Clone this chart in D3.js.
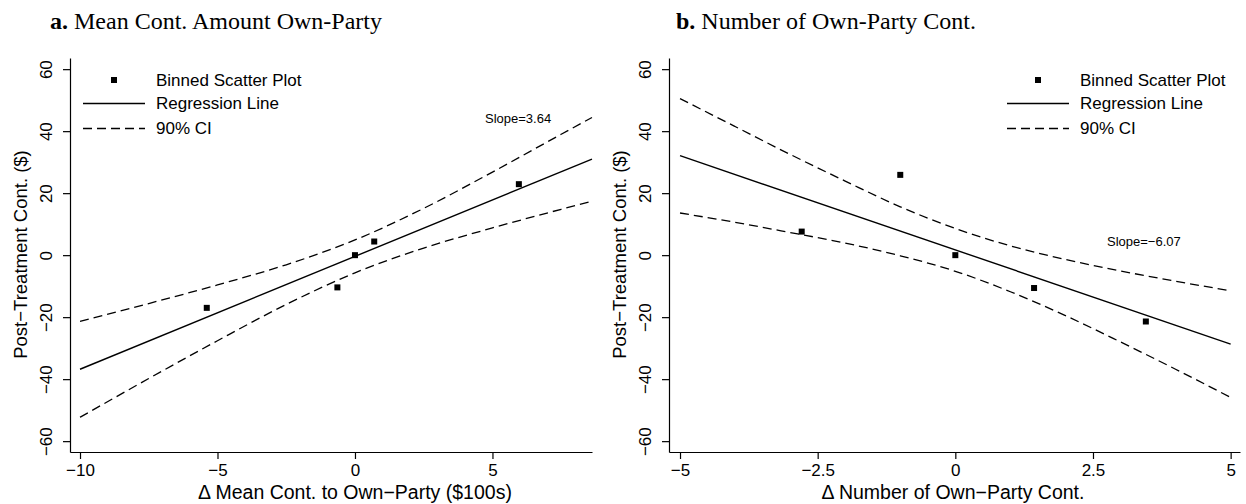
<!DOCTYPE html>
<html>
<head>
<meta charset="utf-8">
<script src="https://cdn.jsdelivr.net/npm/d3@7"></script>
<style>
  body { margin: 0; background: #fff; }
  svg { display: block; }
  text { fill: #000; }
</style>
</head>
<body>
<svg id="chart" width="1246" height="504"></svg>
<script>
// ---- Data ----
const yTicks = [-60, -40, -20, 0, 20, 40, 60];
const yTickLabels = ["\u221260", "\u221240", "\u221220", "0", "20", "40", "60"];

// Panel a
const xTicksA = [-10, -5, 0, 5];
const xTickLabelsA = ["\u221210", "\u22125", "0", "5"];
const binXA = [-5.39, -0.64, 0.0, 0.70, 5.96];
const binYA = [-17.0, -10.4, 0.0, 4.4, 22.9];
const fitXA = [-10, 8.62];
const fitYA = [-36.8, 31.0];
const ciXA = [-10, -7.5, -5, -2.5, 0, 2.5, 5, 7.5, 8.62];
const ciUpA = [-21.4, -15.6, -9.6, -3.1, 4.9, 15.1, 26.8, 39.0, 44.4];
const ciLoA = [-52.3, -39.8, -27.6, -15.9, -5.7, 2.3, 8.8, 14.8, 17.4];
const slopeA = "Slope=3.64";

// Panel b
const xTicksB = [-5, -2.5, 0, 2.5, 5];
const xTickLabelsB = ["\u22125", "\u22122.5", "0", "2.5", "5"];
const binXB = [-2.79, -1.0, 0.0, 1.43, 3.46];
const binYB = [7.6, 25.9, 0.0, -10.6, -21.4];
const fitXB = [-5, 5];
const fitYB = [32.1, -28.7];
const ciXB = [-5, -4, -3, -2, -1, 0, 1, 2, 3, 4, 5];
const ciUpB = [50.5, 41.5, 32.5, 23.9, 15.6, 8.6, 3.0, -1.4, -5.1, -8.4, -11.5];
const ciLoB = [13.6, 10.6, 7.3, 3.9, -0.2, -5.2, -11.8, -19.5, -28.0, -36.8, -45.9];
const slopeB = "Slope=\u22126.07";

const legendLabels = ["Binned Scatter Plot", "Regression Line", "90% CI"];

// ---- Drawing ----
const svg = d3.select("#chart");
const sans = "'Liberation Sans', Arial, Helvetica, sans-serif";
const serif = "'Liberation Serif', 'Times New Roman', serif";

const panels = [
  {
    left: 70, right: 592, xDom: [-10.364, 8.62],
    xTicks: xTicksA, xLabels: xTickLabelsA,
    binX: binXA, binY: binYA, fitX: fitXA, fitY: fitYA,
    ciX: ciXA, ciUp: ciUpA, ciLo: ciLoA,
    slope: slopeA, slopePos: [485, 123],
    titleX: 50, titleBold: "a.", titleRest: " Mean Cont. Amount Own-Party",
    xTitle: "\u0394 Mean Cont. to Own\u2212Party ($100s)", xTitleX: 355,
    legendX: 83
  },
  {
    left: 669, right: 1240, xDom: [-5.2, 5.17],
    xTicks: xTicksB, xLabels: xTickLabelsB,
    binX: binXB, binY: binYB, fitX: fitXB, fitY: fitYB,
    ciX: ciXB, ciUp: ciUpB, ciLo: ciLoB,
    slope: slopeB, slopePos: [1107, 246],
    titleX: 676, titleBold: "b.", titleRest: " Number of Own-Party Cont.",
    xTitle: "\u0394 Number of Own\u2212Party Cont.", xTitleX: 953,
    legendX: 1007
  }
];

const plotTop = 58, plotBottom = 452;
const y = d3.scaleLinear().domain([-63.5, 63.6]).range([plotBottom, plotTop]);

panels.forEach(p => {
  const x = d3.scaleLinear().domain(p.xDom).range([p.left, p.right]);
  const g = svg.append("g");

  // Title
  const t = g.append("text")
    .attr("x", p.titleX).attr("y", 29)
    .style("font-family", serif).style("font-size", "24px");
  t.append("tspan").style("font-weight", "bold").text(p.titleBold);
  t.append("tspan").text(p.titleRest);

  // X axis
  const xAxis = d3.axisBottom(x).tickValues(p.xTicks)
    .tickFormat((d, i) => p.xLabels[i])
    .tickSize(7).tickSizeOuter(0).tickPadding(5);
  const gx = g.append("g").attr("transform", `translate(0,${plotBottom})`).call(xAxis);
  gx.selectAll("text").style("font-family", sans).style("font-size", "17px").attr("fill", "#000");
  gx.selectAll("line, path").attr("stroke", "#000").attr("stroke-width", 1.2);

  // Y axis
  const yAxis = d3.axisLeft(y).tickValues(yTicks)
    .tickFormat((d, i) => yTickLabels[i])
    .tickSize(7).tickSizeOuter(0);
  const gy = g.append("g").attr("transform", `translate(${p.left},0)`).call(yAxis);
  gy.selectAll("text")
    .style("font-family", sans).style("font-size", "17px").attr("fill", "#000")
    .attr("x", 0).attr("y", -18).attr("dy", null)
    .attr("text-anchor", "middle")
    .attr("transform", "rotate(-90)");
  gy.selectAll("line, path").attr("stroke", "#000").attr("stroke-width", 1.2);

  // Axis titles
  g.append("text")
    .attr("x", p.xTitleX).attr("y", 498.5)
    .attr("text-anchor", "middle")
    .style("font-family", sans).style("font-size", "19.5px")
    .text(p.xTitle);
  g.append("text")
    .attr("transform", `translate(${p.left - 43},254.5) rotate(-90)`)
    .attr("text-anchor", "middle")
    .style("font-family", sans).style("font-size", "18.5px")
    .text("Post\u2212Treatment Cont. ($)");

  // CI curves
  const ciLine = d3.line().x(d => x(d[0])).y(d => y(d[1])).curve(d3.curveMonotoneX);
  [p.ciUp, p.ciLo].forEach(arr => {
    g.append("path")
      .datum(p.ciX.map((xv, i) => [xv, arr[i]]))
      .attr("d", ciLine)
      .attr("fill", "none").attr("stroke", "#000")
      .attr("stroke-width", 1.3).attr("stroke-dasharray", "9,5");
  });

  // Regression line
  g.append("path")
    .datum(p.fitX.map((xv, i) => [xv, p.fitY[i]]))
    .attr("d", d3.line().x(d => x(d[0])).y(d => y(d[1])))
    .attr("fill", "none").attr("stroke", "#000").attr("stroke-width", 1.4);

  // Binned points
  g.selectAll("rect.pt")
    .data(p.binX.map((xv, i) => [xv, p.binY[i]]))
    .join("rect").attr("class", "pt")
    .attr("x", d => x(d[0]) - 3).attr("y", d => y(d[1]) - 3)
    .attr("width", 6).attr("height", 6).attr("fill", "#000");

  // Slope label
  g.append("text")
    .attr("x", p.slopePos[0]).attr("y", p.slopePos[1])
    .style("font-family", sans).style("font-size", "13px")
    .text(p.slope);

  // Legend
  const lx = p.legendX, lw = 62, tx = lx + 73;
  const rows = [80, 103.5, 128.5];
  g.append("rect").attr("x", lx + lw / 2 - 3).attr("y", rows[0] - 3)
    .attr("width", 6).attr("height", 6).attr("fill", "#000");
  g.append("line").attr("x1", lx).attr("x2", lx + lw).attr("y1", rows[1]).attr("y2", rows[1])
    .attr("stroke", "#000").attr("stroke-width", 1.4);
  g.append("line").attr("x1", lx).attr("x2", lx + lw).attr("y1", rows[2]).attr("y2", rows[2])
    .attr("stroke", "#000").attr("stroke-width", 1.3).attr("stroke-dasharray", "9,5");
  legendLabels.forEach((lab, i) => {
    g.append("text").attr("x", tx).attr("y", rows[i]).attr("dy", "0.35em")
      .style("font-family", sans).style("font-size", "17px").text(lab);
  });
});
</script>
</body>
</html>
